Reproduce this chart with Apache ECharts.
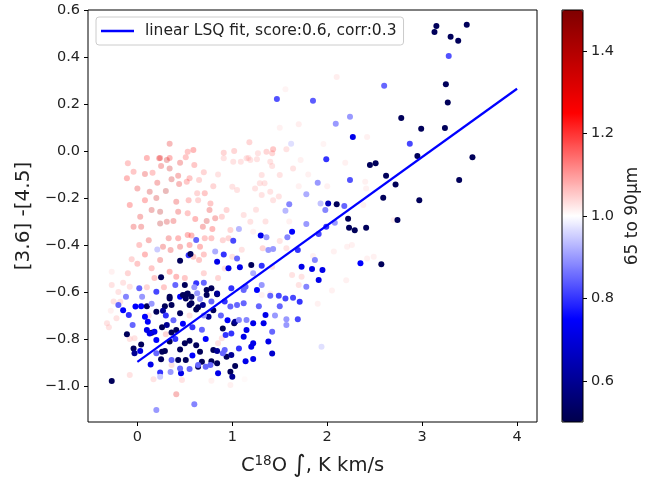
<!DOCTYPE html>
<html>
<head>
<meta charset="utf-8">
<script src="https://cdn.jsdelivr.net/npm/echarts@6/dist/echarts.min.js"></script>
<style>
html, body { margin: 0; padding: 0; background: #fff; }
#chart { width: 650px; height: 483px; }
</style>
</head>
<body>
<div id="chart"></div>
<script>
// points: [C18O integral, [3.6]-[4.5], 65 to 90um ratio]
var points = [
  [3.15,0.532,0.52],[3.13,0.506,0.52],[3.47,0.537,0.52],[3.30,0.486,0.52],[3.38,0.469,0.52],
  [3.28,0.404,0.83],[3.25,0.284,0.52],[3.27,0.206,0.52],[2.78,0.140,0.52],[2.99,0.095,0.52],[3.24,0.098,0.52],
  [2.60,0.278,0.85],[1.47,0.221,0.83],[1.85,0.214,0.84],[2.24,0.146,0.9],[2.09,0.116,0.9],[2.27,0.060,0.72],
  [2.87,0.031,0.82],[2.95,-0.021,0.52],[3.53,-0.027,0.52],
  [2.10,0.315,1.06],[1.56,0.263,1.04],[1.50,0.099,1.05],[1.70,0.114,1.06],[2.42,0.060,1.05],[1.96,0.030,1.04],
  [1.62,0.031,0.97],[0.34,0.031,1.3],[0.24,-0.030,1.3],[0.34,-0.030,1.25],[0.51,-0.026,1.2],[0.53,-0.003,1.2],
  [0.59,0.004,1.25],[0.91,-0.007,1.15],[1.02,0.0,1.15],[1.18,0.037,1.15],[1.17,-0.030,1.1],[1.26,-0.035,1.1],
  [1.36,-0.003,1.15],[1.42,-0.01,1.15],[1.43,0.008,1.2],[1.57,0.008,1.1],[1.99,-0.035,0.8],
  [2.45,-0.060,0.52],[2.51,-0.052,0.52],[2.62,-0.105,0.52],[2.72,-0.142,0.52],[2.59,-0.199,0.52],[2.97,-0.209,0.52],
  [3.39,-0.123,0.52],[2.74,-0.294,0.52],[2.10,-0.226,0.52],[2.01,-0.223,0.65],[2.22,-0.288,0.52],[2.23,-0.326,0.52],
  [2.29,-0.337,0.52],[2.41,-0.326,0.52],[2.57,-0.482,0.52],[2.35,-0.478,0.75],
  [2.24,-0.123,0.83],[1.90,-0.135,0.9],[1.78,-0.184,0.92],[1.60,-0.226,0.88],[1.56,-0.254,0.93],[1.93,-0.223,0.94],
  [1.98,-0.251,0.88],[2.18,-0.234,0.85],[2.08,-0.305,0.9],[1.99,-0.322,0.8],[1.91,-0.353,0.82],[1.78,-0.311,0.9],
  [1.63,-0.343,0.75],[1.58,-0.367,0.88],[1.69,-0.421,0.8],[1.87,-0.464,0.88],[1.73,-0.492,0.72],[1.84,-0.502,0.72],
  [1.95,-0.506,0.72],[1.91,-0.549,0.72],[1.78,-0.577,0.88],
  [1.30,-0.360,0.72],[1.36,-0.367,0.9],[1.38,-0.421,0.9],[1.43,-0.417,0.9],[1.31,-0.488,0.8],[1.20,-0.485,0.52],
  [1.08,-0.495,0.72],[0.96,-0.499,0.72],[1.01,-0.382,0.82],[1.07,-0.332,0.93],[1.05,-0.457,0.85],[0.91,-0.440,0.8],
  [0.82,-0.428,0.92],[0.84,-0.471,0.72],[0.62,-0.379,0.85],[0.54,-0.443,0.8],[0.56,-0.438,0.52],[0.45,-0.467,0.52],
  [0.25,-0.537,0.52],[0.02,-0.584,0.85],[0.50,-0.570,0.52],[0.62,-0.563,0.8],[0.73,-0.591,0.52],[0.78,-0.584,0.52],
  [0.84,-0.609,0.52],[0.34,-0.620,0.52],[0.45,-0.620,0.75],[0.52,-0.609,0.52],[0.51,-0.627,0.52],[0.20,-0.599,0.82],
  [0.63,-0.605,0.9],[0.99,-0.584,0.8],[1.12,-0.591,0.85],[1.14,-0.577,0.85],[1.26,-0.591,0.75],[1.40,-0.616,0.85],
  [1.49,-0.616,0.82],[1.56,-0.627,0.82],[1.64,-0.624,0.82],[1.31,-0.570,0.9],[1.22,-0.520,0.92],[0.21,-0.419,0.95],
  [-0.10,-0.052,1.2],[-0.04,-0.088,1.2],[-0.11,-0.116,1.25],[0.08,-0.098,1.3],[0.16,-0.092,1.2],[0.23,-0.031,1.3],
  [0.31,-0.038,1.35],[0.25,-0.064,1.3],[0.34,-0.074,1.35],[0.43,-0.105,1.3],[0.44,-0.140,1.3],[0.21,-0.135,1.3],
  [0.13,-0.173,1.35],[0.08,-0.209,1.25],[0.15,-0.251,1.35],[0.24,-0.258,1.4],[0.03,-0.280,1.3],[-0.04,-0.322,1.3],
  [0.04,-0.322,1.3],[0.24,-0.308,1.4],[0.31,-0.301,1.35],[0.38,-0.298,1.3],[0.43,-0.258,1.3],[0.53,-0.265,1.2],
  [0.61,-0.289,1.25],[0.73,-0.298,1.35],[0.76,-0.251,1.3],[0.82,-0.286,1.3],[0.79,-0.332,1.25],[0.69,-0.322,1.3],
  [0.64,-0.209,1.15],[0.63,-0.180,1.15],[0.54,-0.209,1.2],[0.52,-0.131,1.2],[0.55,-0.116,1.2],[0.65,-0.123,1.15],
  [0.71,-0.180,1.2],[0.77,-0.223,1.2],[0.41,-0.216,1.3],[0.33,-0.371,1.3],[0.27,-0.407,1.3],[0.35,-0.421,1.3],
  [0.43,-0.371,1.25],[0.45,-0.407,1.3],[0.53,-0.357,1.25],[0.57,-0.360,1.25],[0.71,-0.371,1.2],[0.78,-0.371,1.2],
  [0.66,-0.407,1.25],[0.55,-0.400,1.25],[0.59,-0.450,1.2],[0.65,-0.464,1.2],[0.24,-0.464,1.3],[0.15,-0.499,1.2],
  [0.34,-0.514,1.25],[0.41,-0.535,1.25],[-0.27,-0.514,1.05],[-0.27,-0.570,1.1],[-0.08,-0.577,1.1],
  [0.91,-0.031,1.1],[1.01,-0.046,1.1],[1.15,-0.031,1.1],[1.09,-0.046,1.1],[1.19,-0.038,1.1],[1.27,-0.010,1.1],
  [1.40,-0.046,1.1],[1.42,-0.064,1.1],[1.50,-0.102,1.1],[1.64,-0.074,1.1],[1.72,-0.038,1.05],[1.31,-0.102,1.1],
  [1.29,-0.137,1.1],[1.34,-0.137,1.1],[1.24,-0.159,1.1],[1.40,-0.173,1.1],[1.31,-0.187,1.1],[1.43,-0.209,1.1],
  [1.49,-0.194,1.1],[1.05,-0.166,1.1],[1.00,-0.152,1.1],[1.12,-0.272,1.1],[1.19,-0.301,1.1],[0.94,-0.251,1.15],
  [0.89,-0.280,1.15],[0.98,-0.336,1.15],[0.96,-0.371,1.15],[1.22,-0.343,1.05],[1.32,-0.414,1.15],[1.50,-0.383,1.1],
  [1.57,-0.414,1.1],[1.42,-0.492,1.1],[1.63,-0.528,1.1],[1.73,-0.535,1.1],[1.70,-0.570,1.1],[2.07,-0.428,1.05],
  [1.85,-0.447,1.05],[2.19,-0.050,1.05],[2.38,-0.230,1.05],[2.40,-0.131,1.05],[2.41,-0.159,1.05],[2.21,-0.407,1.05],
  [2.26,-0.400,1.05],[2.42,-0.457,1.05],[2.49,-0.450,1.05],[2.70,-0.294,1.05],
  [-0.27,-0.979,0.52],[0.34,-0.627,0.52],[0.36,-0.655,0.52],[0.29,-0.660,0.52],[0.53,-0.606,0.52],[0.48,-0.613,0.52],
  [0.57,-0.648,0.52],[0.55,-0.655,0.52],[0.64,-0.665,0.52],[0.45,-0.690,0.52],[0.20,-0.684,0.52],[0.27,-0.680,0.6],
  [0.10,-0.660,0.52],[-0.11,-0.780,0.52],[-0.04,-0.840,0.52],[-0.03,-0.861,0.6],[0.04,-0.823,0.52],[0.15,-0.773,0.52],
  [0.26,-0.750,0.52],[0.31,-0.740,0.6],[0.36,-0.772,0.52],[0.41,-0.762,0.52],[0.34,-0.811,0.52],[0.26,-0.854,0.52],
  [0.29,-0.851,0.52],[0.25,-0.886,0.52],[0.45,-0.844,0.52],[0.50,-0.818,0.52],[0.55,-0.807,0.52],[0.62,-0.826,0.52],
  [0.66,-0.854,0.52],[0.51,-0.889,0.52],[0.43,-0.889,0.52],[0.64,-0.918,0.52],[0.68,-0.897,0.52],[0.78,-0.894,0.52],
  [0.84,-0.903,0.52],[0.98,-0.939,0.52],[1.00,-0.960,0.6],[1.03,-0.915,0.52],[0.94,-0.875,0.52],[0.99,-0.868,0.6],
  [0.90,-0.755,0.52],[1.02,-0.733,0.52],[1.03,-0.726,0.6],[0.80,-0.847,0.52],[0.84,-0.851,0.6],[0.62,-0.674,0.52],
  [0.69,-0.655,0.6],[0.57,-0.620,0.52],[0.75,-0.705,0.6],[0.80,-0.677,0.52],[0.73,-0.613,0.52],[0.84,-0.606,0.6],
  [-0.20,-0.655,0.85],[-0.15,-0.677,0.75],[-0.09,-0.698,0.8],[-0.02,-0.662,0.75],[0.04,-0.660,0.75],[0.08,-0.705,0.75],
  [0.11,-0.726,0.75],[0.10,-0.762,0.72],[0.13,-0.776,0.72],[0.18,-0.769,0.72],[0.20,-0.804,0.75],[0.03,-0.851,0.72],
  [0.14,-0.908,0.72],[0.24,-0.942,0.8],[0.46,-0.946,0.72],[0.36,-0.889,0.85],[0.45,-0.925,0.85],[0.55,-0.928,0.85],
  [0.64,-0.911,0.85],[0.72,-0.918,0.85],[0.77,-0.911,0.85],[0.85,-0.946,0.72],[1.14,-0.894,0.72],[1.22,-0.885,0.72],
  [1.20,-0.833,0.72],[1.22,-0.818,0.72],[1.07,-0.840,0.8],[1.15,-0.762,0.72],[1.12,-0.790,0.72],[1.22,-0.733,0.72],
  [1.33,-0.733,0.72],[1.35,-0.698,0.72],[1.38,-0.811,0.72],[1.42,-0.862,0.68],[1.42,-0.769,0.85],[1.71,-0.641,0.8],
  [1.69,-0.716,0.82],[1.57,-0.716,0.9],[1.57,-0.740,0.9],[1.12,-0.648,0.85],[1.05,-0.655,0.85],[0.98,-0.662,0.85],
  [1.07,-0.719,0.88],[1.15,-0.719,0.88],[0.93,-0.783,0.8],[0.99,-0.776,0.8],[0.90,-0.861,0.85],[0.92,-0.847,0.85],
  [0.60,-1.078,0.88],[0.20,-1.102,0.9],[1.94,-0.833,0.97],[0.24,-0.960,0.95],
  [0.30,-0.700,0.8],[0.38,-0.720,0.85],[0.48,-0.735,0.75],[0.58,-0.750,0.8],[0.68,-0.760,0.85],[0.72,-0.800,0.75],
  [0.40,-0.800,0.8],[0.58,-0.870,0.75],[0.35,-0.940,0.9],[0.70,-0.700,0.9],[0.88,-0.700,0.85],[0.60,-0.580,0.9],
  [0.70,-0.560,0.85],[0.40,-0.570,0.85],[0.05,-0.620,0.9],[-0.05,-0.740,0.85],[0.20,-0.860,0.85],[0.92,-0.640,0.8],
  [0.78,-0.640,0.85],[0.66,-0.630,0.9],[0.95,-0.720,0.75],[1.28,-0.660,0.85],[1.45,-0.700,0.9],[1.50,-0.660,0.85],
  [0.15,-0.650,0.9],[-0.12,-0.620,0.88],
  [-0.32,-0.733,1.1],[-0.30,-0.750,1.1],[-0.22,-0.712,1.1],[-0.18,-0.641,1.1],[-0.08,-0.953,1.1],[-0.03,-0.797,1.1],
  [-0.08,-0.800,1.1],[0.41,-1.035,1.3],[0.47,-0.974,1.1],[0.17,-0.971,1.1],[0.36,-0.911,1.1],[0.78,-0.977,1.05],
  [0.98,-0.996,1.05],[0.85,-0.818,1.1],[0.89,-0.797,1.1],[1.31,-0.613,1.05],[1.40,-0.606,1.05],[2.05,-0.594,1.05],
  [1.13,-0.971,1.02],
  [-0.25,-0.640,1.1],[-0.20,-0.600,1.1],[-0.28,-0.680,1.05],[-0.15,-0.560,1.1],[-0.10,-0.520,1.15],[0.0,-0.480,1.2],
  [0.08,-0.440,1.25],[0.12,-0.380,1.3],[0.02,-0.400,1.2],[-0.06,-0.460,1.15],[0.18,-0.540,1.2],[0.10,-0.580,1.15],
  [0.28,-0.580,1.2],[0.12,-0.700,1.1],[0.30,-0.780,1.15],[0.55,-0.700,1.1],[0.50,-0.540,1.2],[0.70,-0.520,1.15],
  [0.85,-0.540,1.15],[0.92,-0.500,1.1],[1.00,-0.450,1.1],[1.10,-0.420,1.1],[0.90,-0.380,1.15],[0.70,-0.440,1.2],
  [0.20,-0.200,1.35],[0.30,-0.170,1.4],[0.36,-0.120,1.35],[0.10,-0.030,1.25],[0.00,-0.160,1.3],[-0.08,-0.230,1.25],
  [0.45,-0.050,1.3],[0.60,-0.060,1.2],[0.70,-0.090,1.15],[0.80,-0.150,1.15],[0.85,-0.100,1.1],[1.25,-0.250,1.1],
  [1.35,-0.300,1.1],[1.60,-0.300,1.05],[1.70,-0.150,1.05],[1.80,-0.100,1.05],[2.00,-0.150,1.05],[1.90,-0.650,1.05],
  [2.20,-0.550,1.05]
];

// linear fit end points
var fitX = [0, 4];
var fitY = [-0.897, 0.265];

var xTicks = [0, 1, 2, 3, 4];
var yTicks = [-1.0, -0.8, -0.6, -0.4, -0.2, 0.0, 0.2, 0.4, 0.6];
var cbTicks = [0.6, 0.8, 1.0, 1.2, 1.4];
var seismic = ['#00004c', '#0000ff', '#ffffff', '#ff0000', '#7f0000'];

var FONT = 'DejaVu Sans';
var fitName = 'linear LSQ fit, score:0.6, corr:0.3';

function minusFmt(v) { return v.toFixed(1).replace('-', '\u2212'); }

var lowPts = points.filter(function (p) { return p[2] < 1; });
var highPts = points.filter(function (p) { return p[2] >= 1; });
var fitData = fitX.map(function (x, i) { return [x, fitY[i]]; });

var chart = echarts.init(document.getElementById('chart'));

var option = {
  animation: false,
  textStyle: { fontFamily: FONT },
  grid: [
    { left: 88, top: 10, width: 449, height: 412, show: true, borderColor: '#000', borderWidth: 1, z: 10 },
    { left: 562, top: 10, width: 21, height: 412, show: true, borderColor: '#000', borderWidth: 1, z: 10 }
  ],
  legend: {
    data: [fitName],
    left: 96, top: 17,
    padding: [6, 7, 6, 5],
    icon: 'rect',
    itemWidth: 33, itemHeight: 2.5,
    borderColor: '#ccc', borderWidth: 1, borderRadius: 3,
    backgroundColor: 'rgba(255,255,255,0.8)',
    textStyle: { fontSize: 15.5, color: '#222', fontFamily: FONT, padding: [0, 0, 0, 6] }
  },
  visualMap: {
    type: 'continuous',
    min: 0.5, max: 1.5,
    dimension: 2,
    seriesIndex: [0, 1],
    left: 562, top: 10,
    itemWidth: 21, itemHeight: 412,
    padding: 0,
    calculable: false,
    hoverLink: false,
    inRange: { color: seismic }
  },
  xAxis: [
    {
      type: 'value', gridIndex: 0, min: -0.52, max: 4.21,
      axisLine: { show: false, onZero: false },
      axisTick: { show: true, length: 4, lineStyle: { color: '#000' }, customValues: xTicks },
      axisLabel: { color: '#222', fontSize: 14.5, margin: 8, customValues: xTicks,
                   formatter: function (v) { return String(Math.round(v)); } },
      splitLine: { show: false },
      name: '{t|C}{s|18}{t|O }{i|\u222B}{t|, K km/s}',
      nameLocation: 'middle', nameGap: 32,
      nameTextStyle: {
        rich: {
          t: { fontSize: 19.5, color: '#222', fontFamily: FONT },
          s: { fontSize: 13.5, color: '#222', fontFamily: FONT, padding: [0, 0, 10, 0] },
          i: { fontSize: 24, color: '#222', fontFamily: FONT }
        }
      }
    },
    { type: 'value', gridIndex: 1, min: 0, max: 1, show: false }
  ],
  yAxis: [
    {
      type: 'value', gridIndex: 0, min: -1.153, max: 0.6,
      axisLine: { show: false, onZero: false },
      axisTick: { show: true, length: 4, lineStyle: { color: '#000' }, customValues: yTicks },
      axisLabel: { color: '#222', fontSize: 14.5, margin: 8, customValues: yTicks, formatter: minusFmt },
      splitLine: { show: false },
      name: '[3.6] -[4.5]',
      nameLocation: 'middle', nameRotate: 90, nameGap: 52,
      nameTextStyle: { fontSize: 20, color: '#222', fontFamily: FONT }
    },
    {
      type: 'value', gridIndex: 1, min: 0.5, max: 1.5, position: 'right',
      axisLine: { show: false, onZero: false },
      axisTick: { show: true, length: 4, lineStyle: { color: '#000' }, customValues: cbTicks },
      axisLabel: { color: '#222', fontSize: 14.5, margin: 8, customValues: cbTicks,
                   formatter: function (v) { return v.toFixed(1); } },
      splitLine: { show: false },
      name: '65 to 90\u03BCm',
      nameLocation: 'middle', nameRotate: 90, nameGap: 41,
      nameTextStyle: { fontSize: 17, color: '#222', fontFamily: FONT }
    }
  ],
  series: [
    {
      type: 'scatter', xAxisIndex: 0, yAxisIndex: 0,
      data: highPts, symbolSize: 6, silent: true,
      itemStyle: { opacity: 0.27 }
    },
    {
      type: 'scatter', xAxisIndex: 0, yAxisIndex: 0,
      data: lowPts, symbolSize: 6, silent: true,
      itemStyle: { opacity: 1 }
    },
    {
      name: fitName,
      type: 'line', xAxisIndex: 0, yAxisIndex: 0,
      data: fitData, symbol: 'none', silent: true, z: 5,
      lineStyle: { color: '#0000ff', width: 2.2 },
      itemStyle: { color: '#0000ff' }
    }
  ]
};

chart.setOption(option);
</script>
</body>
</html>
